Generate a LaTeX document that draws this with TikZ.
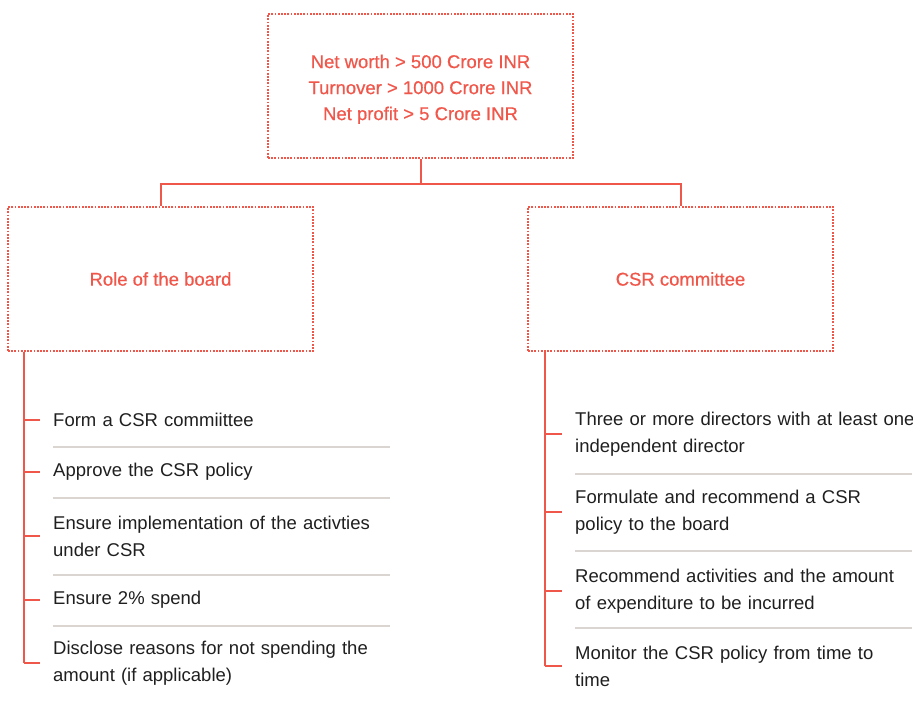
\documentclass[tikz,border=0pt]{standalone}
\usepackage{fontspec}
\setmainfont{Liberation Sans}
\usetikzlibrary{positioning}
\definecolor{csrred}{HTML}{F0574B}
\definecolor{sepgray}{HTML}{DAD5D1}
\tikzset{
	dotbox/.style={draw=csrred, line width=2pt, dash pattern=on 1.8pt off 1.4pt, minimum width=305pt, minimum height=144pt, text=csrred, align=center, inner sep=0pt, font=\fontsize{18.5}{26}\selectfont\addfontfeature{FakeBold=0.6}},
	item/.style={anchor=west, text width=345pt, align=left, inner sep=0pt, text=black!88, font=\fontsize{18.5}{27}\selectfont},
	link/.style={draw=csrred, line width=2pt},
	sep/.style={draw=sepgray, line width=2pt}
}

\begin{document}
\begin{tikzpicture}[x=1pt,y=-1pt]
				\useasboundingbox (0,0) rectangle (913,702);
				\node[dotbox] (top) at (420.5,86) {\\[-6pt]Net worth > 500 Crore INR\\Turnover > 1000 Crore INR\\Net profit > 5 Crore INR};
				\node[dotbox] (board) at (160.5,279) {Role of the board};
				\node[dotbox] (committee) at (680.5,279) {CSR committee};
				\coordinate (split) at (420.5,184);
				\draw[link] (top.south) -- (split) -| (board.north);
				\draw[link] (split) -| (committee.north);
				
				% role of the board
				\node[item] (b1) at (53,420) {Form a CSR commiittee};
				\node[item] (b2) at (53,472) {Approve the CSR policy};
				\node[item] (b3) at (53,536) {Ensure implementation of the activties\\under CSR};
				\node[item] (b4) at (53,600) {Ensure 2\% spend};
				\node[item] (b5) at (53,663) {Disclose reasons for not spending the\\amount (if applicable)};
				\coordinate (bspine) at (24,0);
				\coordinate (btick) at (40,0);
				\draw[link] (board.south -| bspine) -- (b5.west -| bspine);
				\foreach \n in {b1,b2,b3,b4,b5} {
					\draw[link] (\n.west -| bspine) -- (\n.west -| btick);
				}
				\foreach \y in {447,498,575,626} {
					\draw[sep] (53,\y) -- (390,\y);
				}
				
				% csr committee
				\node[item] (c1) at (575,434) {Three or more directors with at least one\\independent director};
				\node[item] (c2) at (575,512) {Formulate and recommend a CSR\\policy to the board};
				\node[item] (c3) at (575,591) {Recommend activities and the amount\\of expenditure to be incurred};
				\node[item] (c4) at (575,666) {Monitor the CSR policy from time to\\time};
				\coordinate (cspine) at (545,0);
				\coordinate (ctick) at (562,0);
				\draw[link] (committee.south -| cspine) -- (c4.west -| cspine);
				\foreach \n in {c1,c2,c3,c4} {
					\draw[link] (\n.west -| cspine) -- (\n.west -| ctick);
				}
				\foreach \y in {474,551,628} {
					\draw[sep] (575,\y) -- (912,\y);
				}
			\end{tikzpicture}
\end{document}
